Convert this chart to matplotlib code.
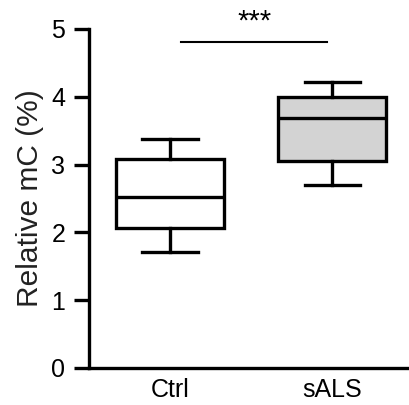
import numpy as np
import matplotlib
matplotlib.use('Agg')
import matplotlib.pyplot as plt

plt.rcParams['font.family'] = ['Liberation Sans', 'DejaVu Sans']

# box statistics
groups = ['Ctrl', 'sALS']
whisLo = [1.71, 2.70]
q1 = [2.06, 3.05]
med = [2.52, 3.69]
q3 = [3.08, 4.00]
whisHi = [3.38, 4.22]
fills = ['white', '#d3d3d3']
sigLevel = 4.81
sigText = '***'

lw = 2.4

stats = []
for ii in range(len(groups)):
    stats.append(dict(label=groups[ii], whislo=whisLo[ii], q1=q1[ii], med=med[ii],
                      q3=q3[ii], whishi=whisHi[ii], fliers=[]))

fig = plt.figure(figsize=(4.10, 4.05), dpi=100)
ax = fig.add_axes([0.217, 0.0914, 0.783, 0.837])

bp = ax.bxp(stats, positions=[0, 1], widths=0.67, patch_artist=True, showfliers=False,
            boxprops=dict(linewidth=lw, edgecolor='black'),
            whiskerprops=dict(linewidth=lw, color='black'),
            capprops=dict(linewidth=lw, color='black'),
            medianprops=dict(linewidth=lw, color='black'),
            capwidths=0.34)
for patch, c in zip(bp['boxes'], fills):
    patch.set_facecolor(c)

# significance bar
ax.plot([0.07, 0.97], [sigLevel, sigLevel], color='black', lw=1.5, clip_on=False)
ax.text(0.52, sigLevel + 0.1, sigText, ha='center', va='bottom', fontsize=21)

ax.set_xlim(-0.5, 1.48)
ax.set_ylim(0, 5)
ax.set_yticks([0, 1, 2, 3, 4, 5])
ax.spines['top'].set_visible(False)
ax.spines['right'].set_visible(False)
ax.spines['left'].set_linewidth(lw)
ax.spines['bottom'].set_linewidth(lw)
ax.tick_params(axis='y', length=11, width=lw, labelsize=18, pad=6)
ax.tick_params(axis='x', length=0, labelsize=18, pad=7)
ax.set_ylabel('Relative mC (%)', fontsize=21.5, labelpad=5, color='#222222')

fig.savefig('out.png', dpi=100)
